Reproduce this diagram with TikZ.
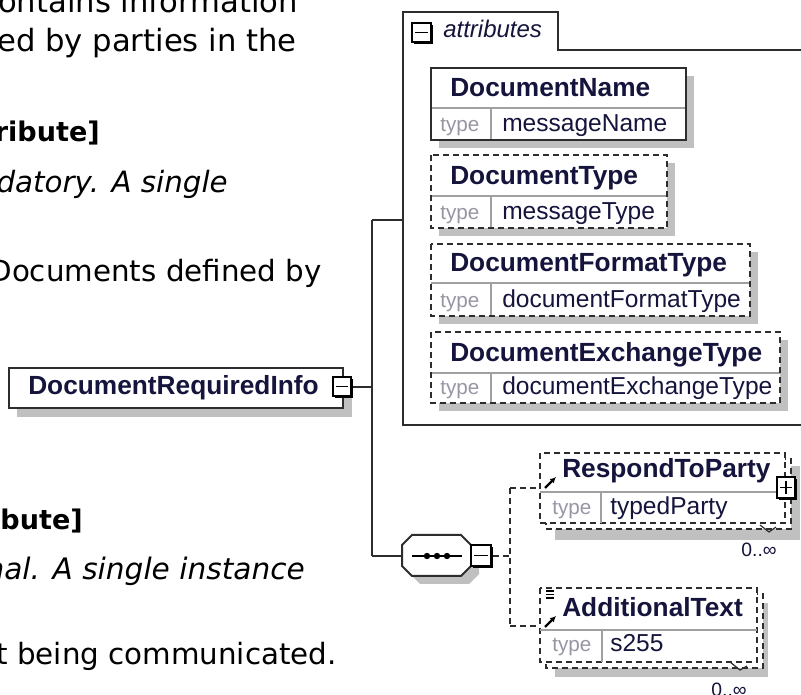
\documentclass[tikz,border=0pt]{standalone}
\usepackage{fontspec}
\setmainfont{DejaVu Sans}[BoldFont={DejaVu Sans Bold},ItalicFont={DejaVu Sans Oblique}]
\newfontfamily\arialf{Liberation Sans}
\usetikzlibrary{arrows.meta}
\definecolor{navy}{RGB}{20,20,60}
\definecolor{frame}{RGB}{45,45,45}
\definecolor{typegray}{RGB}{150,150,165}
\definecolor{divgray}{RGB}{160,160,160}
\definecolor{shadowc}{RGB}{192,192,192}
\newcommand\attbox[9]{%
  \fill[shadowc] (#1+8,#2+8) rectangle (#3+8,#4+8);
  \fill[white] (#1,#2) rectangle (#3,#4);
  \draw[divl] (#1,#5) -- (#3,#5) (491,#5) -- (491,#4);
  \draw[frm,#6] (#1,#2) rectangle (#3,#4);
  \node[ename] (#9n) at (450,#5-11) {#7};
  \node[tlabel] (#9t) at (#1+9,#4-8) {type};
  \node[tval] (#9v) at (502,#4-8) {#8};
}
\newcommand\iconbox[4]{%
  \fill[black] (#1+2,#2+2) rectangle (#3+2,#4+2);
  \draw[fill=white,draw=black,line width=1.1pt] (#1,#2) rectangle (#3,#4);
}
\begin{document}
\begin{tikzpicture}[x=0.75pt,y=-0.75pt,
  para/.style={anchor=base east, inner sep=0pt, font=\fontsize{22pt}{26pt}\selectfont},
  ename/.style={anchor=base west, inner sep=0pt, text=navy, font=\arialf\bfseries\fontsize{19.7pt}{22pt}\selectfont},
  tlabel/.style={anchor=base west, inner sep=0pt, text=typegray, font=\arialf\fontsize{15.5pt}{18pt}\selectfont},
  tval/.style={anchor=base west, inner sep=0pt, text=navy, font=\arialf\fontsize{18.4pt}{22pt}\selectfont},
  card/.style={anchor=base east, inner sep=0pt, text=navy, font=\arialf\fontsize{14.5pt}{16pt}\selectfont},
  frm/.style={draw=frame, line width=1.5pt},
  dsh/.style={dash pattern=on 4.5pt off 3pt},
  divl/.style={draw=divgray, line width=1.1pt},
]
\useasboundingbox (0,0) rectangle (801,695);
\clip (0,0) rectangle (801,695);
\fill[white] (0,0) rectangle (801,695);

% left paragraph text
\node[para,font=\fontsize{23pt}{27pt}\selectfont] (p1) at (298,13) {ontains information};
\node[para,font=\fontsize{23pt}{27pt}\selectfont] (p2) at (297,52) {ed by parties in the};
\node[para,font=\fontsize{20.3pt}{24pt}\selectfont\bfseries] (p3) at (100,142) {ribute]};
\node[para,font=\fontsize{22pt}{26pt}\selectfont\itshape] (p4) at (228,193) {datory. A single};
\node[para] (p5) at (322,282) {Documents defined by};
\node[para,font=\fontsize{20.3pt}{24pt}\selectfont\bfseries] (p6) at (83,530) {bute]};
\node[para,font=\fontsize{22.2pt}{26pt}\selectfont\itshape] (p7) at (305,580) {nal. A single instance};
\node[para] (p8) at (337,665) {t being communicated.};

% attributes group
\draw[frm] (810,425) -- (403,425) -- (403,12) -- (558,12) -- (558,50) -- (810,50);
\coordinate (attL) at (403,220);
\iconbox{412}{23}{431}{42}
\draw[black,line width=1.1pt] (415,32.5) -- (428,32.5);
\node[anchor=base west, inner sep=0pt, text=navy, font=\arialf\itshape\fontsize{18pt}{20pt}\selectfont] (attr) at (443,38) {attributes};

\attbox{431}{68}{686}{140}{108}{solid}{DocumentName}{messageName}{dn}
\attbox{431}{155}{667}{228}{196}{dsh}{DocumentType}{messageType}{dt}
\attbox{431}{244}{750}{316}{283}{dsh}{DocumentFormatType}{documentFormatType}{dft}
\attbox{431}{332}{780}{403}{373}{dsh}{DocumentExchangeType}{documentExchangeType}{det}

% root element
\fill[shadowc] (17,376) rectangle (352,417);
\draw[frm,fill=white] (9,368) rectangle (343,408);
\node[ename] (dri) at (28,395) {DocumentRequiredInfo};
\iconbox{333}{377}{351}{396}
\draw[black,line width=1.1pt] (336,386.5) -- (348,386.5);
\coordinate (driR) at (353,387);
\coordinate (jt) at (372,220);
\coordinate (jb) at (372,556);
\draw[frm] (driR) -- (driR -| jt);
\draw[frm] (jt) -- (jb);
\draw[frm] (jt) -- (attL);

% sequence compositor
\fill[shadowc] (420,543) -- (469,543) -- (479,553) -- (479,574) -- (469,584) -- (420,584) -- (410,574) -- (410,553) -- cycle;
\draw[frm,fill=white] (412,535) -- (461,535) -- (471,545) -- (471,566) -- (461,576) -- (412,576) -- (402,566) -- (402,545) -- cycle;
\coordinate (seqL) at (402,556);
\draw[black,line width=1.1pt] (412,556) -- (462,556);
\fill[black] (427,556) circle (3.2) (437,556) circle (3.2) (447,556) circle (3.2);
\iconbox{471}{545}{491}{566}
\draw[black,line width=1.1pt] (474,555.5) -- (488,555.5);
\coordinate (seqR) at (493,556);
\draw[frm] (jb) -- (seqL);
\coordinate (sj) at (510,556);
\coordinate (sjt) at (510,488);
\coordinate (sjb) at (510,626);
\coordinate (rtpL) at (540,488);
\coordinate (atL) at (540,626);
\draw[frm,dsh] (seqR) -- (sj);
\draw[frm,dsh] (sjt) -- (sjb);
\draw[frm,dsh] (sjt) -- (rtpL);
\draw[frm,dsh] (sjb) -- (atL);

% RespondToParty
\fill[shadowc] (555,466) rectangle (800,540);
\draw[frm,dsh,fill=white] (546,459) rectangle (791,529);
\draw[frm,dsh,fill=white] (540,453) rectangle (785,523);
\draw[divl] (540,492) -- (785,492) (601,492) -- (601,523);
\node[ename] (rtp) at (562,478) {RespondToParty};
\node[tlabel] (rtpt) at (552,515) {type};
\node[tval] (rtpv) at (610,515) {typedParty};
\draw[-{Latex[length=4.5pt,width=4.5pt]},black,line width=1.6pt] (545,488) -- (556,477);
\iconbox{777}{477}{795}{498}
\draw[black,line width=1.1pt] (780,487.5) -- (792,487.5) (786,481) -- (786,494);
\draw[frame,line width=0.9pt] (760,525) -- (769,532) -- (776,527);
\node[card] (c1) at (777,557) {0..∞};

% AdditionalText
\fill[shadowc] (555,603) rectangle (768,677);
\draw[frm,dsh,fill=white] (546,594) rectangle (763,668);
\draw[frm,dsh,fill=white] (540,588) rectangle (757,662);
\draw[divl] (540,630) -- (757,630) (602,630) -- (602,662);
\node[ename] (adt) at (562,617) {AdditionalText};
\node[tlabel] (adtt) at (552,652) {type};
\node[tval] (adtv) at (610,652) {s255};
\draw[black,line width=0.9pt] (546,591) -- (554,591) (546,594.5) -- (554,594.5) (546,598) -- (554,598);
\draw[-{Latex[length=4.5pt,width=4.5pt]},black,line width=1.6pt] (545,627) -- (556,616);
\draw[frame,line width=0.9pt] (730,662) -- (740,670) -- (747,666);
\node[card] (c2) at (747,696) {0..∞};
\end{tikzpicture}
\end{document}
